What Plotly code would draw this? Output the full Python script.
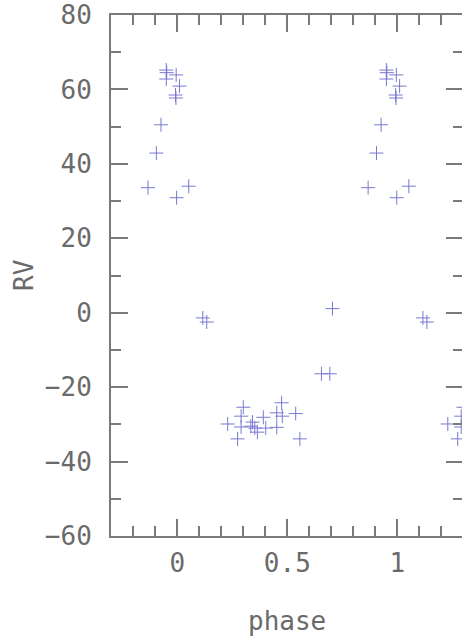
import plotly.graph_objects as go

# Orbital phase (0..1) and radial velocity
phase = [0.950, 0.952, 0.950, 0.995, 0.010, 0.992, 0.994, 0.926, 0.905, 0.867,
         0.997, 0.052, 0.116, 0.134, 0.705, 0.655, 0.693,
         0.229, 0.274, 0.300, 0.290, 0.290, 0.342, 0.334, 0.352, 0.364,
         0.391, 0.402, 0.452, 0.452, 0.474, 0.477, 0.538, 0.557]
rv = [65.2, 64.5, 62.8, 63.9, 60.9, 58.5, 57.7, 50.5, 42.9, 33.6,
      30.9, 34.0, -1.4, -2.5, 1.1, -16.4, -16.4,
      -29.9, -33.9, -25.4, -27.8, -30.7, -29.4, -30.5, -31.0, -32.1,
      -28.1, -31.0, -26.9, -30.8, -24.2, -27.8, -27.1, -33.9]

x_ticks = [0, 0.5, 1]
x_ticktext = ["0", "0.5", "1"]
y_ticks = [-60, -40, -20, 0, 20, 40, 60, 80]

# phase-folded: show each point at phase-1, phase, phase+1
xs, ys = [], []
for p, v in zip(phase, rv):
    for shift in (-1, 0, 1):
        q = p + shift
        if -0.2 <= q <= 1.3:
            xs.append(q)
            ys.append(v)

axis_col = "#7a7a7a"
txt_col = "#6a6a6a"
font_fam = "DejaVu Sans Mono"

fig = go.Figure()
fig.add_trace(go.Scatter(
    x=xs, y=ys, mode="markers",
    marker=dict(symbol="cross-thin", size=10,
                line=dict(width=1, color="#7878d2"), color="#7878d2"),
    showlegend=False,
))

common = dict(
    showline=True, linecolor=axis_col, linewidth=2, mirror="ticks",
    ticks="inside", ticklen=17, tickwidth=2, tickcolor=axis_col,
    showgrid=False, zeroline=False,
    tickfont=dict(family=font_fam, size=26, color=txt_col),
)

fig.update_xaxes(range=[-0.301, 1.298], tickvals=x_ticks, ticktext=x_ticktext,
                 ticklabelstandoff=3,
                 minor=dict(ticks="inside", ticklen=10, tickwidth=2,
                            tickcolor=axis_col, dtick=0.1, tick0=0, showgrid=False),
                 **common)
fig.update_yaxes(range=[-60, 80], tickvals=y_ticks, ticklabelstandoff=12,
                 minor=dict(ticks="inside", ticklen=10, tickwidth=2,
                            tickcolor=axis_col, dtick=10, tick0=0, showgrid=False),
                 **common)

fig.add_annotation(text="RV", xref="paper", yref="paper",
                   x=(23 - 111) / 354, y=0.5, xanchor="center", yanchor="middle",
                   textangle=-90, showarrow=False,
                   font=dict(family=font_fam, size=26, color=txt_col))
fig.add_annotation(text="phase", xref="x", yref="paper",
                   x=0.5, y=(536 - 621) / 521, xanchor="center", yanchor="middle",
                   showarrow=False,
                   font=dict(family=font_fam, size=26, color=txt_col))

# plot frame's right side lies just past the window edge, as in the reference
fig.update_layout(
    width=465, height=638,
    margin=dict(l=111, r=0, t=15, b=102),
    paper_bgcolor="white", plot_bgcolor="white",
)

# remove the browser's default 8px body margin so the figure fills the window
fig.write_html("out.html", config={"displayModeBar": False},
               post_script="document.body.style.margin='0px';")
